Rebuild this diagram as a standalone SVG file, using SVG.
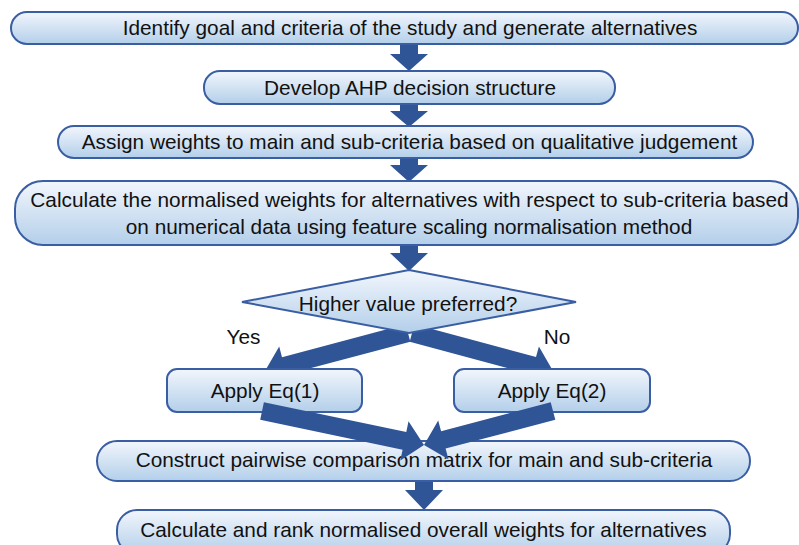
<svg xmlns="http://www.w3.org/2000/svg" width="799" height="545" viewBox="0 0 799 545">
<defs>
<linearGradient id="g" x1="0" y1="0" x2="0" y2="1">
<stop offset="0" stop-color="#f2f6fc"/>
<stop offset="1" stop-color="#b3cfea"/>
</linearGradient>
<style>
.n{fill:url(#g);stroke:#3a5ea3;stroke-width:2}
.t{font-family:"Liberation Sans",Arial,sans-serif;font-size:20.8px;fill:#111;text-anchor:middle}
.a{fill:#2f5597}
</style>
</defs>
<rect width="799" height="545" fill="#fff"/>
<g id="connectors">
<polygon class="a" points="400,44 418,44 418,54 428,54 409,71 390,54 400,54"/>
<polygon class="a" points="400,104 418,104 418,111 428,111 409,127 390,111 400,111"/>
<polygon class="a" points="400,158 418,158 418,165 428,165 409,182 390,165 400,165"/>
<polygon class="a" points="400,245 418,245 418,253 428,253 409,271 390,253 400,253"/>
<polygon class="a" points="405.7,324.3 282.0,357.2 279.2,346.5 265,371 289.5,385.2 286.6,374.6 410.3,341.7"/>
<polygon class="a" points="409.7,341.7 531.4,374.5 528.5,385.1 553,371 538.9,346.5 536.0,357.1 414.3,324.3"/>
<polygon class="a" points="415,481 433,481 433,490 443,490 424,510 405,490 415,490"/>
</g>
<g id="n1"><rect class="n" x="11" y="12" width="787" height="32" rx="16"/><text class="t" x="410" y="35">Identify goal and criteria of the study and generate alternatives</text></g>
<g id="n2"><rect class="n" x="204" y="71" width="411" height="33" rx="16"/><text class="t" x="410" y="95">Develop AHP decision structure</text></g>
<g id="n3"><rect class="n" x="58" y="126" width="695" height="32" rx="16"/><text class="t" x="409.5" y="149">Assign weights to main and sub-criteria based on qualitative judgement</text></g>
<g id="n4"><rect class="n" x="15" y="181" width="783" height="64" rx="28"/><text class="t" x="409.5" y="207">Calculate the normalised weights for alternatives with respect to sub-criteria based</text><text class="t" x="409" y="234">on numerical data using feature scaling normalisation method</text></g>
<g id="d1"><polygon class="n" points="409,270 576,302 409,333 242,302"/><text class="t" x="408" y="311">Higher value preferred?</text></g>
<text class="t" x="243.5" y="344">Yes</text>
<text class="t" x="557" y="344">No</text>
<g id="e1"><rect class="n" x="167" y="369" width="195" height="43" rx="10"/><text class="t" x="265" y="398">Apply Eq(1)</text></g>
<g id="e2"><rect class="n" x="454" y="369" width="196" height="43" rx="10"/><text class="t" x="552" y="398">Apply Eq(2)</text></g>
<g id="n5"><rect class="n" x="97" y="441" width="653" height="40" rx="20"/><text class="t" x="424" y="467">Construct pairwise comparison matrix for main and sub-criteria</text></g>
<g id="n6"><rect class="n" x="117" y="510" width="613" height="44" rx="20"/><text class="t" x="423.5" y="537">Calculate and rank normalised overall weights for alternatives</text></g>
<g id="connectors2">
<polygon class="a" points="260.2,419.8 402.6,449.7 400.3,460.5 424,445 408.5,421.3 406.3,432.1 263.9,402.2"/>
<polygon class="a" points="550.7,402.3 441.1,431.2 438.2,420.6 424,445 448.4,459.2 445.6,448.6 555.3,419.7"/>
</g>
</svg>
